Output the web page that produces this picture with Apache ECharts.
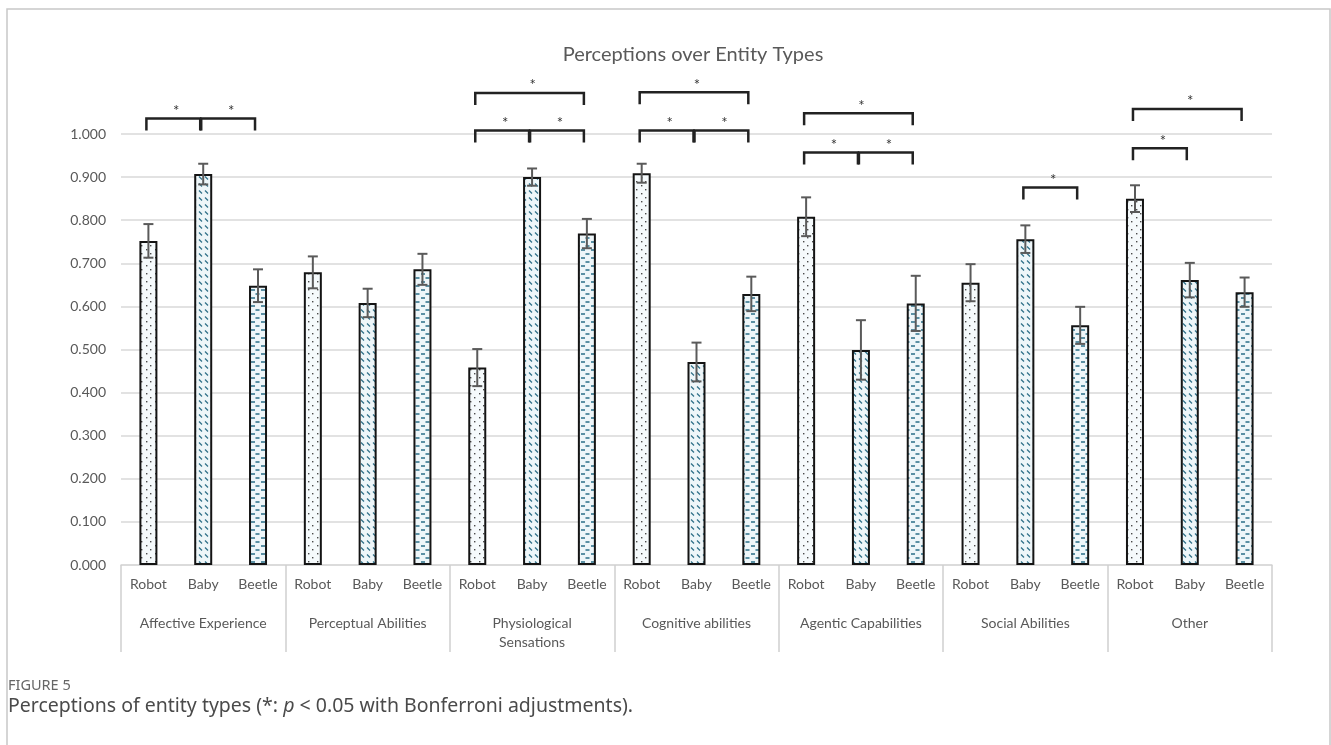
<!DOCTYPE html>
<html>
<head>
<meta charset="utf-8">
<title>Perceptions over Entity Types</title>
<script src="https://cdn.jsdelivr.net/npm/echarts@6/dist/echarts.min.js"></script>
<style>
    html, body { margin: 0; padding: 0; background: #fff; }
    #chart { width: 1331px; height: 745px; }
</style>
</head>
<body>
<div id="chart"></div>
<script>
// categories
var groups = ['Affective Experience', 'Perceptual Abilities', 'Physiological\nSensations',
    'Cognitive abilities', 'Agentic Capabilities', 'Social Abilities', 'Other'];
var entities = ['Robot', 'Baby', 'Beetle'];

// means, in group order (Robot, Baby, Beetle per group)
var means = [0.752, 0.907, 0.648,
    0.679, 0.608, 0.686,
    0.458, 0.900, 0.769,
    0.909, 0.471, 0.629,
    0.808, 0.499, 0.607,
    0.655, 0.756, 0.556,
    0.850, 0.661, 0.633];

// half width of the error bars
var errors = [0.039, 0.024, 0.038,
    0.037, 0.033, 0.036,
    0.043, 0.020, 0.034,
    0.022, 0.045, 0.040,
    0.045, 0.069, 0.064,
    0.043, 0.032, 0.043,
    0.031, 0.040, 0.034];

// significance brackets: [from bar, to bar, bracket height]
var sigBrackets = [
    [0, 1, 1.036], [1, 2, 1.036],
    [6, 7, 1.008], [7, 8, 1.008], [6, 8, 1.095],
    [9, 10, 1.008], [10, 11, 1.008], [9, 11, 1.097],
    [12, 13, 0.957], [13, 14, 0.957], [12, 14, 1.048],
    [16, 17, 0.876],
    [18, 19, 0.967], [18, 20, 1.058]
];

var yTicks = [0, 0.1, 0.2, 0.3, 0.4, 0.5, 0.6, 0.7, 0.8, 0.9, 1.0];

var labelColor = '#595959';
var gridColor = '#d9d9d9';
var font = 'Lato, "Open Sans", sans-serif';
var capFont = '"Noto Sans", sans-serif';

function makeTile(w, h, bg, draw) {
    var c = document.createElement('canvas');
    c.width = w;
    c.height = h;
    var ctx = c.getContext('2d');
    ctx.fillStyle = bg;
    ctx.fillRect(0, 0, w, h);
    draw(ctx);
    return c;
}

// Robot: sparse dots
var dotTile = makeTile(9, 8, '#f5fafc', function(ctx) {
    ctx.fillStyle = '#4a4a4a';
    ctx.fillRect(2, 1, 1.4, 1.4);
    ctx.fillRect(6, 5, 1.4, 1.4);
});
// Baby: diagonal dashes
var diagTile = makeTile(6, 7, '#eef6f9', function(ctx) {
    ctx.strokeStyle = '#2f7088';
    ctx.lineWidth = 1.3;
    ctx.beginPath();
    ctx.moveTo(1, 1.5);
    ctx.lineTo(4, 4.5);
    ctx.stroke();
});
// Beetle: horizontal dashes
var dashTile = makeTile(10, 8, '#eef6f9', function(ctx) {
    ctx.strokeStyle = '#2b6f88';
    ctx.lineWidth = 1.6;
    ctx.beginPath();
    ctx.moveTo(1, 2);
    ctx.lineTo(5, 2);
    ctx.moveTo(5.5, 6);
    ctx.lineTo(9.5, 6);
    ctx.stroke();
});
var tiles = [dotTile, diagTile, dashTile];

var barLabels = [];
var barData = [];
var errData = [];
for (var i = 0; i < means.length; i++) {
    barLabels.push(entities[i % 3]);
    barData.push({
        value: means[i],
        itemStyle: { color: { image: tiles[i % 3], repeat: 'repeat' } }
    });
    errData.push([i, means[i] - errors[i], means[i] + errors[i]]);
}

var chart = echarts.init(document.getElementById('chart'));

chart.setOption({
    animation: false,
    backgroundColor: '#fff',
    textStyle: { fontFamily: font },
    grid: { left: 121, right: 59, top: 134, bottom: 180, containLabel: false },
    xAxis: [{
        type: 'category',
        data: barLabels,
        position: 'bottom',
        axisLine: { lineStyle: { color: gridColor, width: 1.5 } },
        axisTick: { show: false },
        axisLabel: { interval: 0, color: labelColor, fontSize: 14, margin: 12, fontFamily: font }
    }, {
        type: 'category',
        data: groups,
        position: 'bottom',
        axisLine: { show: false },
        axisTick: { show: true, interval: 0, length: 87, lineStyle: { color: '#d0d0d0', width: 1.5 } },
        axisLabel: { interval: 0, color: labelColor, fontSize: 14, margin: 49, lineHeight: 19, fontFamily: font }
    }],
    yAxis: {
        type: 'value',
        min: yTicks[0],
        max: yTicks[yTicks.length - 1],
        interval: 0.1,
        axisLine: { show: false },
        axisTick: { show: false },
        axisLabel: {
            color: labelColor, fontSize: 14, margin: 15, fontFamily: font,
            formatter: function(v) { return v.toFixed(3); }
        },
        splitLine: { lineStyle: { color: gridColor, width: 1.5 } }
    },
    series: [{
        type: 'bar',
        xAxisIndex: 0,
        data: barData,
        barWidth: 18,
        itemStyle: { borderColor: '#141414', borderWidth: 2 },
        z: 2
    }, {
        type: 'custom',
        xAxisIndex: 0,
        data: errData,
        z: 3,
        renderItem: function(params, api) {
            var lo = api.coord([api.value(0), api.value(1)]);
            var hi = api.coord([api.value(0), api.value(2)]);
            var hw = 5;
            var style = { stroke: '#5a5a5a', lineWidth: 2 };
            return {
                type: 'group',
                children: [
                    { type: 'line', shape: { x1: lo[0], y1: lo[1], x2: hi[0], y2: hi[1] }, style: style },
                    { type: 'line', shape: { x1: hi[0] - hw, y1: hi[1], x2: hi[0] + hw, y2: hi[1] }, style: style },
                    { type: 'line', shape: { x1: lo[0] - hw, y1: lo[1], x2: lo[0] + hw, y2: lo[1] }, style: style }
                ]
            };
        }
    }, {
        type: 'custom',
        xAxisIndex: 0,
        data: sigBrackets,
        clip: false,
        z: 4,
        renderItem: function(params, api) {
            var a = api.coord([api.value(0), api.value(2)]);
            var b = api.coord([api.value(1), api.value(2)]);
            var x1 = a[0] - 2, x2 = b[0] - 3, y = a[1];
            var leg = 12;
            return {
                type: 'group',
                children: [{
                    type: 'polyline',
                    shape: { points: [[x1, y + leg], [x1, y], [x2, y], [x2, y + leg]] },
                    style: { stroke: '#222', lineWidth: 2.5, fill: null }
                }, {
                    type: 'text',
                    style: {
                        x: (x1 + x2) / 2 + 3, y: y - 15, text: '*',
                        fill: '#333', fontSize: 15, fontFamily: font,
                        align: 'center', verticalAlign: 'top'
                    }
                }]
            };
        }
    }],
    graphic: [{
        type: 'rect',
        shape: { x: 7, y: 9, width: 1323, height: 800 },
        style: { fill: null, stroke: '#c8c8c8', lineWidth: 1.5 },
        silent: true
    }, {
        type: 'text',
        x: 693, y: 55,
        style: {
            text: 'Perceptions over Entity Types', fill: labelColor,
            fontSize: 20, fontFamily: font, align: 'center', verticalAlign: 'middle'
        }
    }, {
        type: 'text',
        x: 8, y: 686,
        style: {
            text: 'FIGURE 5', fill: '#666', fontSize: 14.5,
            fontFamily: capFont, verticalAlign: 'middle'
        }
    }, {
        type: 'text',
        x: 8, y: 706,
        style: {
            text: '{n|Perceptions of entity types (*: }{i|p}{n| < 0.05 with Bonferroni adjustments).}',
            verticalAlign: 'middle',
            rich: {
                n: { fill: '#4a4a4a', fontSize: 19.5, fontFamily: capFont },
                i: { fill: '#4a4a4a', fontSize: 19.5, fontStyle: 'italic', fontFamily: capFont }
            }
        }
    }]
});
</script>
</body>
</html>
